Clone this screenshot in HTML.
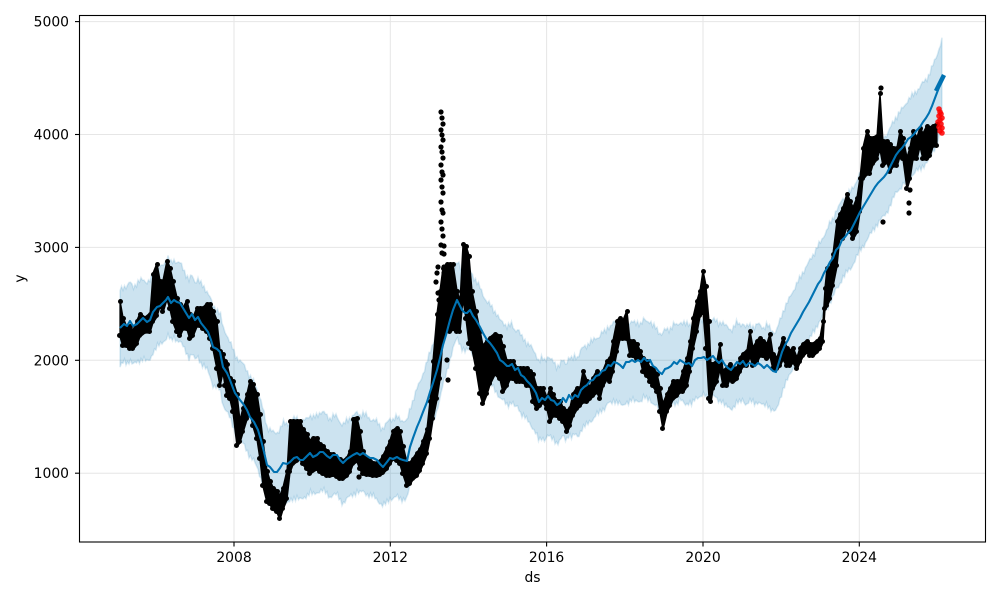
<!DOCTYPE html>
<html><head><meta charset="utf-8">
<style>html,body{margin:0;padding:0;background:#fff;width:1000px;height:600px;overflow:hidden}svg{display:block}</style>
</head><body>
<svg id="c" width="1000" height="600" xmlns="http://www.w3.org/2000/svg" font-family="DejaVu Sans, Liberation Sans, sans-serif" font-size="13.9">
<rect width="1000" height="600" fill="#fff"/>
<g stroke="#e6e6e6" stroke-width="1">
<line x1="80" y1="473.2" x2="985" y2="473.2"/>
<line x1="80" y1="360.3" x2="985" y2="360.3"/>
<line x1="80" y1="247.4" x2="985" y2="247.4"/>
<line x1="80" y1="134.5" x2="985" y2="134.5"/>
<line x1="80" y1="21.6" x2="985" y2="21.6"/>
<line x1="234" y1="15" x2="234" y2="542"/>
<line x1="390.3" y1="15" x2="390.3" y2="542"/>
<line x1="546.6" y1="15" x2="546.6" y2="542"/>
<line x1="703" y1="15" x2="703" y2="542"/>
<line x1="859.3" y1="15" x2="859.3" y2="542"/>
</g>
<path id="band" fill="rgba(0,114,178,0.2)" stroke="rgba(0,114,178,0.13)" stroke-width="1.6"/>
<path id="obs" fill="#000" stroke="#000" stroke-width="1.2" stroke-linejoin="round"/>
<g id="dots" fill="#000"></g>
<polyline id="yhat" fill="none" stroke="#0072B2" stroke-width="2.1" stroke-linejoin="round"/>
<line x1="936" y1="91" x2="944" y2="75" stroke="#0072B2" stroke-width="4.5"/>
<g id="red" fill="rgba(255,0,0,0.85)"></g>
<rect x="79.5" y="15.5" width="906" height="526.5" fill="none" stroke="#000" stroke-width="1.1"/>
<g stroke="#000" stroke-width="1.1">
<line x1="75" y1="473.2" x2="79.5" y2="473.2"/>
<line x1="75" y1="360.3" x2="79.5" y2="360.3"/>
<line x1="75" y1="247.4" x2="79.5" y2="247.4"/>
<line x1="75" y1="134.5" x2="79.5" y2="134.5"/>
<line x1="75" y1="21.6" x2="79.5" y2="21.6"/>
<line x1="234" y1="542" x2="234" y2="546.5"/>
<line x1="390.3" y1="542" x2="390.3" y2="546.5"/>
<line x1="546.6" y1="542" x2="546.6" y2="546.5"/>
<line x1="703" y1="542" x2="703" y2="546.5"/>
<line x1="859.3" y1="542" x2="859.3" y2="546.5"/>
</g>
<g fill="#000" text-anchor="end">
<text x="69" y="478.2">1000</text>
<text x="69" y="365.3">2000</text>
<text x="69" y="252.4">3000</text>
<text x="69" y="139.5">4000</text>
<text x="69" y="26.6">5000</text>
</g>
<g fill="#000" text-anchor="middle">
<text x="234" y="562">2008</text>
<text x="390.3" y="562">2012</text>
<text x="546.6" y="562">2016</text>
<text x="703" y="562">2020</text>
<text x="859.3" y="562">2024</text>
<text x="532.5" y="582">ds</text>
<text transform="translate(24.5,278.5) rotate(-90)">y</text>
</g>
</svg>
<script>
(function(){
var L=[[120,328],[124,324],[127,326],[130,321],[133,326],[137,324],[140,321],[143,318],[147,322],[150,320],[153,312],[157,307],[160,306],[163,303],[166,300],[168,297],[171,303],[174,300],[177,302],[180,303],[183,308],[186,313],[189,318],[192,314],[195,320],[198,317],[201,323],[205,328],[208,332],[211,340],[213,347],[217,349],[220,352],[223,367],[227,373],[230,380],[233,388],[235,393],[240,400],[244,405],[247,410],[250,417],[254,422],[258,430],[261,440],[264,452],[267,465],[270,467],[274,472],[277,472],[280,468],[283,463],[287,464],[290,462],[294,458],[297,457],[300,460],[303,460],[307,456],[310,453],[313,457],[317,455],[320,452],[323,452],[327,456],[330,458],[333,455],[337,455],[340,460],[343,463],[347,459],[350,457],[353,455],[357,453],[360,455],[363,453],[367,456],[370,458],[373,458],[377,460],[380,464],[383,467],[387,462],[390,458],[393,459],[397,457],[400,459],[403,460],[407,461],[410,447],[413,438],[417,427],[420,420],[423,412],[427,402],[430,392],[433,383],[437,370],[440,358],[443,345],[446,335],[450,320],[453,310],[457,300],[460,306],[462,310],[465,313],[467,313],[470,310],[473,316],[476,320],[480,327],[483,333],[487,340],[490,343],[493,347],[497,353],[500,360],[503,362],[507,366],[509,366],[512,364],[515,370],[518,368],[521,375],[524,377],[527,381],[530,384],[533,388],[536,393],[539,402],[542,398],[545,400],[548,396],[551,400],[554,401],[557,405],[560,403],[563,398],[566,402],[569,395],[572,399],[575,395],[578,397],[581,390],[584,387],[587,385],[590,381],[593,380],[596,376],[599,375],[602,371],[605,370],[608,365],[611,366],[614,362],[617,363],[620,365],[623,368],[626,362],[629,362],[632,360],[635,362],[638,360],[641,362],[644,358],[647,361],[650,360],[653,366],[656,368],[659,372],[662,374],[665,369],[668,368],[671,366],[674,362],[677,364],[680,360],[683,362],[686,364],[689,363],[692,366],[695,360],[698,358],[701,358],[704,357],[707,360],[710,358],[713,356],[716,360],[719,363],[722,360],[725,365],[728,368],[731,370],[734,366],[737,362],[740,364],[743,361],[746,366],[749,363],[752,364],[755,366],[758,363],[761,365],[764,368],[767,365],[770,368],[773,371],[776,372],[779,362],[782,352],[785,345],[788,340],[791,333],[794,328],[797,323],[800,318],[803,312],[806,307],[809,302],[812,296],[815,290],[818,284],[821,280],[824,273],[827,268],[830,262],[833,258],[836,250],[839,247],[842,240],[845,237],[848,233],[851,230],[854,224],[857,218],[860,212],[863,207],[866,202],[869,197],[872,192],[875,187],[878,183],[881,180],[884,177],[887,173],[890,167],[893,161],[896,155],[899,151],[902,148],[905,144],[908,139],[911,137],[914,134],[917,130],[920,127],[923,122],[926,118],[929,113],[932,106],[935,98],[938,90],[941,82],[943,77]];
var O=[[120,300,337],[123,317,347],[127,327,347],[130,325,350],[133,330,350],[137,320,345],[140,313,337],[145,317,333],[150,313,333],[153,273,323],[157,263,317],[160,280,307],[163,280,313],[167,260,300],[170,267,310],[173,280,323],[177,297,333],[180,303,337],[183,307,330],[187,300,330],[190,313,340],[193,317,337],[197,307,327],[200,307,327],[203,307,330],[207,303,333],[210,303,340],[213,310,350],[217,320,370],[220,350,387],[223,353,373],[225,360,387],[227,363,397],[230,377,400],[233,380,413],[237,393,447],[240,420,443],[243,407,433],[247,393,420],[250,380,413],[253,383,427],[257,393,440],[260,413,460],[263,440,487],[267,470,503],[270,480,505],[273,487,510],[277,490,513],[280,495,520],[283,487,510],[287,470,500],[290,420,473],[293,420,465],[297,420,462],[300,420,460],[303,428,465],[307,433,470],[310,440,475],[313,437,472],[317,437,470],[320,443,473],[323,445,475],[327,450,477],[330,453,477],[333,453,476],[337,457,478],[340,458,480],[343,460,480],[347,457,477],[350,450,473],[353,418,465],[357,417,462],[360,430,470],[363,450,475],[367,457,476],[370,460,476],[373,462,477],[377,462,477],[380,460,476],[383,455,474],[387,447,470],[390,440,465],[393,430,460],[397,427,462],[400,430,465],[403,445,475],[407,462,487],[410,462,485],[413,458,480],[417,452,477],[420,448,472],[423,440,465],[427,428,455],[430,400,440],[433,360,420],[437,313,400],[440,290,380],[443,267,340],[447,263,330],[450,263,333],[453,263,330],[457,290,333],[460,300,333],[463,243,300],[466,245,320],[469,255,345],[472,290,350],[476,310,370],[480,330,395],[483,345,405],[487,340,395],[490,337,385],[495,333,375],[500,335,380],[503,345,393],[507,360,387],[510,360,380],[513,360,380],[517,367,383],[520,367,383],[523,367,383],[527,367,387],[530,370,387],[533,373,403],[537,387,410],[540,387,407],[543,387,403],[547,397,410],[550,387,423],[553,393,417],[557,400,417],[560,400,420],[563,407,423],[567,410,433],[570,407,427],[573,393,417],[577,387,410],[580,387,407],[583,370,403],[587,380,403],[590,387,400],[593,377,397],[597,370,393],[600,373,400],[603,370,387],[607,360,380],[610,357,383],[613,340,373],[617,320,353],[620,317,340],[623,320,340],[627,310,340],[630,340,357],[633,340,357],[637,343,360],[640,350,360],[643,357,373],[647,360,377],[650,367,383],[653,367,387],[657,373,393],[660,387,413],[663,403,430],[667,393,413],[670,387,407],[673,380,400],[677,380,397],[680,380,393],[683,370,393],[687,357,387],[690,340,373],[693,317,350],[697,300,333],[700,290,317],[703,270,313],[706,285,350],[709,320,400],[711,363,403],[713,363,390],[717,360,383],[720,343,370],[723,370,387],[727,367,387],[730,363,380],[733,367,383],[737,367,380],[740,357,373],[743,353,367],[747,350,367],[750,330,357],[753,347,367],[757,340,363],[760,337,357],[763,340,357],[767,343,360],[770,333,357],[773,353,370],[777,357,370],[780,347,367],[783,337,360],[787,347,367],[790,350,367],[793,347,363],[797,357,370],[800,347,363],[803,343,357],[807,340,353],[810,343,357],[813,343,357],[817,340,353],[820,337,350],[823,320,343],[825,287,310],[827,267,307],[830,267,300],[833,253,287],[837,220,267],[840,213,237],[843,207,240],[847,193,227],[850,200,233],[853,207,240],[857,197,233],[860,177,213],[863,147,180],[867,130,175],[870,137,175],[873,137,165],[877,135,160],[880,92,150],[883,140,167],[887,140,163],[890,143,173],[893,147,167],[897,147,167],[900,130,157],[903,137,160],[907,157,190],[910,147,180],[913,130,160],[917,137,160],[920,127,147],[923,133,160],[927,125,160],[930,127,157],[933,125,147],[937,123,147]];
function f(n){return Math.round(n*10)/10;}
var d='M'+O[0][0]+','+O[0][1];
for(var i=1;i<O.length;i++){d+='L'+O[i][0]+','+O[i][1];}
for(var i=O.length-1;i>=0;i--){d+='L'+O[i][0]+','+O[i][2];}
d+='Z';
document.getElementById('obs').setAttribute('d',d);
var p='';
for(var i=0;i<L.length;i++){p+=L[i][0]+','+L[i][1]+' ';}
document.getElementById('yhat').setAttribute('points',p);
function interp(x){
  if(x<=L[0][0])return L[0][1];
  for(var i=1;i<L.length;i++){
    if(x<=L[i][0]){var a=L[i-1],b=L[i];return a[1]+(b[1]-a[1])*(x-a[0])/(b[0]-a[0]);}
  }
  return L[L.length-1][1];
}
var up=[],lo=[];
for(var x=120;x<=943;x+=1.5){
  var y=interp(x);
  var n1=2.2*Math.sin(x*1.9)+1.4*Math.sin(x*0.61+1.3)+1.0*Math.sin(x*0.17);
  var n2=2.2*Math.sin(x*2.3+0.7)+1.4*Math.sin(x*0.53+2.1)+1.0*Math.sin(x*0.13+1);
  var wu=39, wl=39+(x>915?(x-915)*0.5:0);
  up.push([x,y-wu+n1]);lo.push([x,y+wl+n2]);
}
var b='M'+up[0][0]+','+f(up[0][1]);
for(var i=1;i<up.length;i++)b+='L'+up[i][0]+','+f(up[i][1]);
for(var i=lo.length-1;i>=0;i--)b+='L'+lo[i][0]+','+f(lo[i][1]);
b+='Z';
document.getElementById('band').setAttribute('d',b);
var NS='http://www.w3.org/2000/svg';
function dot(g,x,y,r){var c=document.createElementNS(NS,'circle');c.setAttribute('cx',x);c.setAttribute('cy',y);c.setAttribute('r',r||2.6);g.appendChild(c);}
var dg=document.getElementById('dots');
for(var i=0;i<O.length;i++){dot(dg,O[i][0]+0.5,O[i][1]+1.5,2.5);dot(dg,O[i][0]-0.5,O[i][2]-1.5,2.5);}
var sp=[112,118,124,130,135,140,147,152,158,165,172,175,180,187,193,202,210,213,222,229,236,245,253];
for(var i=0;i<sp.length;i++){dot(dg,441+(i%3),sp[i]);}
var extra=[[444,246],[444,254],[444,267],[444,273],[438,293],[438,267],[447,360],[448,380],[883,222],[909,203],[909,213],[910,190],[881,88],[439,300],[359,477],[436,282],[437,273]];
for(var i=0;i<extra.length;i++)dot(dg,extra[i][0],extra[i][1]);
var rg=document.getElementById('red');
var rd=[[939,109],[940,112],[939,116],[940,120],[941,124],[939,127],[940,131],[942,118],[942,128],[941,114],[938,122],[942,133]];
for(var i=0;i<rd.length;i++)dot(rg,rd[i][0],rd[i][1],2.8);
})();
</script>
</body></html>
